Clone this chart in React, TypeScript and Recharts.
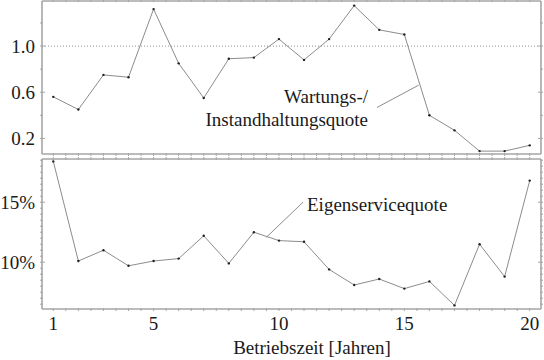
import React from "react";
import {
  LineChart,
  Line,
  XAxis,
  YAxis,
  ReferenceLine,
  Customized,
} from "recharts";

// Betriebsjahre
const years = [1, 2, 3, 4, 5, 6, 7, 8, 9, 10, 11, 12, 13, 14, 15, 16, 17, 18, 19, 20];
// Wartungs-/Instandhaltungsquote
const wartungsquote = [
  0.56, 0.45, 0.75, 0.73, 1.32, 0.85, 0.55, 0.89, 0.9, 1.06,
  0.88, 1.06, 1.35, 1.14, 1.1, 0.4, 0.27, 0.09, 0.09, 0.14,
];
// Eigenservicequote in %
const eigenquote = [
  18.4, 10.1, 11.0, 9.7, 10.1, 10.3, 12.2, 9.9, 12.5, 11.8,
  11.7, 9.4, 8.1, 8.6, 7.8, 8.4, 6.4, 11.5, 8.8, 16.8,
];

const xLabels = [1, 5, 10, 15, 20];
const topLabels = [0.2, 0.6, 1.0];
const bottomLabels = [10, 15];

const xDomain = [0.55, 20.45];
const topDomain = [0.065, 1.39];
const bottomDomain = [6.1, 18.6];

const xTicks = Array.from({ length: 39 }, (_, i) => 1 + i * 0.5);
const topTicks = [0.2, 0.4, 0.6, 0.8, 1.0, 1.2];
const bottomTicks = Array.from({ length: 25 }, (_, i) => 6.5 + i * 0.5);

const data = years.map((y, i) => ({
  year: y,
  wartung: wartungsquote[i],
  eigen: eigenquote[i],
}));

const FONT = '"Times New Roman", Tinos, "Liberation Serif", "DejaVu Serif", "Noto Serif", FreeSerif, Times, serif';
const FRAME = "#a6a6a6";
const TEXT = "#1a1a1a";
const txt = { fontFamily: FONT, fontSize: 19, fill: TEXT } as const;

const XTick = (side: "top" | "bottom", withLabel: boolean) => (props: any) => {
  const { x, y, payload } = props;
  const v = payload.value;
  const dir = side === "bottom" ? -1 : 1;
  return (
    <g>
      <line x1={x} x2={x} y1={y} y2={y + dir * 3} stroke={FRAME} strokeWidth={1} />
      {withLabel && xLabels.includes(v) && (
        <text x={x} y={y + 19} textAnchor="middle" style={txt}>
          {v}
        </text>
      )}
    </g>
  );
};

const YTick = (side: "left" | "right", labels: number[], fmt: (v: number) => string) => (props: any) => {
  const { x, y, payload } = props;
  const v = payload.value;
  const dir = side === "left" ? 1 : -1;
  const labelled = labels.some((l) => Math.abs(l - v) < 1e-6);
  return (
    <g>
      <line x1={x} x2={x + dir * (labelled ? 5 : 3)} y1={y} y2={y} stroke={FRAME} strokeWidth={1} />
      {side === "left" && labelled && (
        <text x={x - 5} y={y + 6.5} textAnchor="end" style={txt}>
          {fmt(v)}
        </text>
      )}
    </g>
  );
};

const TopNotes = () => (
  <g>
    <text x={368} y={103} textAnchor="end" style={txt}>Wartungs-/</text>
    <text x={368} y={126} textAnchor="end" style={txt}>Instandhaltungsquote</text>
  </g>
);

const BottomNotes = () => (
  <g>
    <text x={307} y={54.5} style={txt}>Eigenservicequote</text>
    <text x={312} y={198} textAnchor="middle" style={txt}>Betriebszeit [Jahren]</text>
  </g>
);

const axisCommon = {
  tickSize: 0,
  tickLine: false,
  stroke: FRAME,
  strokeWidth: 1.6,
  interval: 0 as const,
  allowDataOverflow: true,
};

export default function App() {
  return (
    <div style={{ position: "absolute", left: 0, top: 0, width: 544, height: 360, background: "#fff", fontFamily: FONT }}>
      <div style={{ position: "absolute", left: 0, top: 0 }}>
        <LineChart width={544} height={156} data={data} margin={{ top: 0, right: 2, left: 0, bottom: 1 }}>
          <XAxis dataKey="year" type="number" domain={xDomain} ticks={xTicks} height={1}
            {...axisCommon} tick={XTick("bottom", false)} />
          <XAxis xAxisId="t" orientation="top" dataKey="year" type="number" domain={xDomain} ticks={xTicks}
            height={1} {...axisCommon} tick={XTick("top", false)} />
          <YAxis type="number" domain={topDomain} ticks={topTicks} width={42} {...axisCommon}
            tick={YTick("left", topLabels, (v) => v.toFixed(1))} />
          <YAxis yAxisId="r" orientation="right" type="number" domain={topDomain} ticks={topTicks} width={1}
            {...axisCommon} tick={YTick("right", topLabels, (v) => v.toFixed(1))} />
          <ReferenceLine y={1} stroke="#a8a8a8" strokeDasharray="1 2" strokeWidth={1.2} />
          <ReferenceLine
            segment={[{ x: 13.91, y: 0.468 }, { x: 15.57, y: 0.661 }]}
            stroke="#8c8c8c"
            strokeWidth={1}
          />
          <Line dataKey="wartung" stroke="#8c8c8c" strokeWidth={1} isAnimationActive={false}
            dot={{ r: 1.2, fill: "#222", stroke: "none" }} />
          <Customized component={TopNotes} />
        </LineChart>
      </div>
      <div style={{ position: "absolute", left: 0, top: 156 }}>
        <LineChart width={544} height={204} data={data} margin={{ top: 2, right: 2, left: 0, bottom: 0 }}>
          <XAxis dataKey="year" type="number" domain={xDomain} ticks={xTicks} height={51}
            {...axisCommon} tick={XTick("bottom", true)} />
          <XAxis xAxisId="t" orientation="top" dataKey="year" type="number" domain={xDomain} ticks={xTicks}
            height={1} {...axisCommon} tick={XTick("top", false)} />
          <YAxis type="number" domain={bottomDomain} ticks={bottomTicks} width={42} {...axisCommon}
            tick={YTick("left", bottomLabels, (v) => `${v}%`)} />
          <YAxis yAxisId="r" orientation="right" type="number" domain={bottomDomain} ticks={bottomTicks} width={1}
            {...axisCommon} tick={YTick("right", bottomLabels, (v) => `${v}%`)} />
          <ReferenceLine
            segment={[{ x: 9.5, y: 12.08 }, { x: 10.96, y: 15.0 }]}
            stroke="#8c8c8c"
            strokeWidth={1}
          />
          <Line dataKey="eigen" stroke="#8c8c8c" strokeWidth={1} isAnimationActive={false}
            dot={{ r: 1.2, fill: "#222", stroke: "none" }} />
          <Customized component={BottomNotes} />
        </LineChart>
      </div>
    </div>
  );
}
